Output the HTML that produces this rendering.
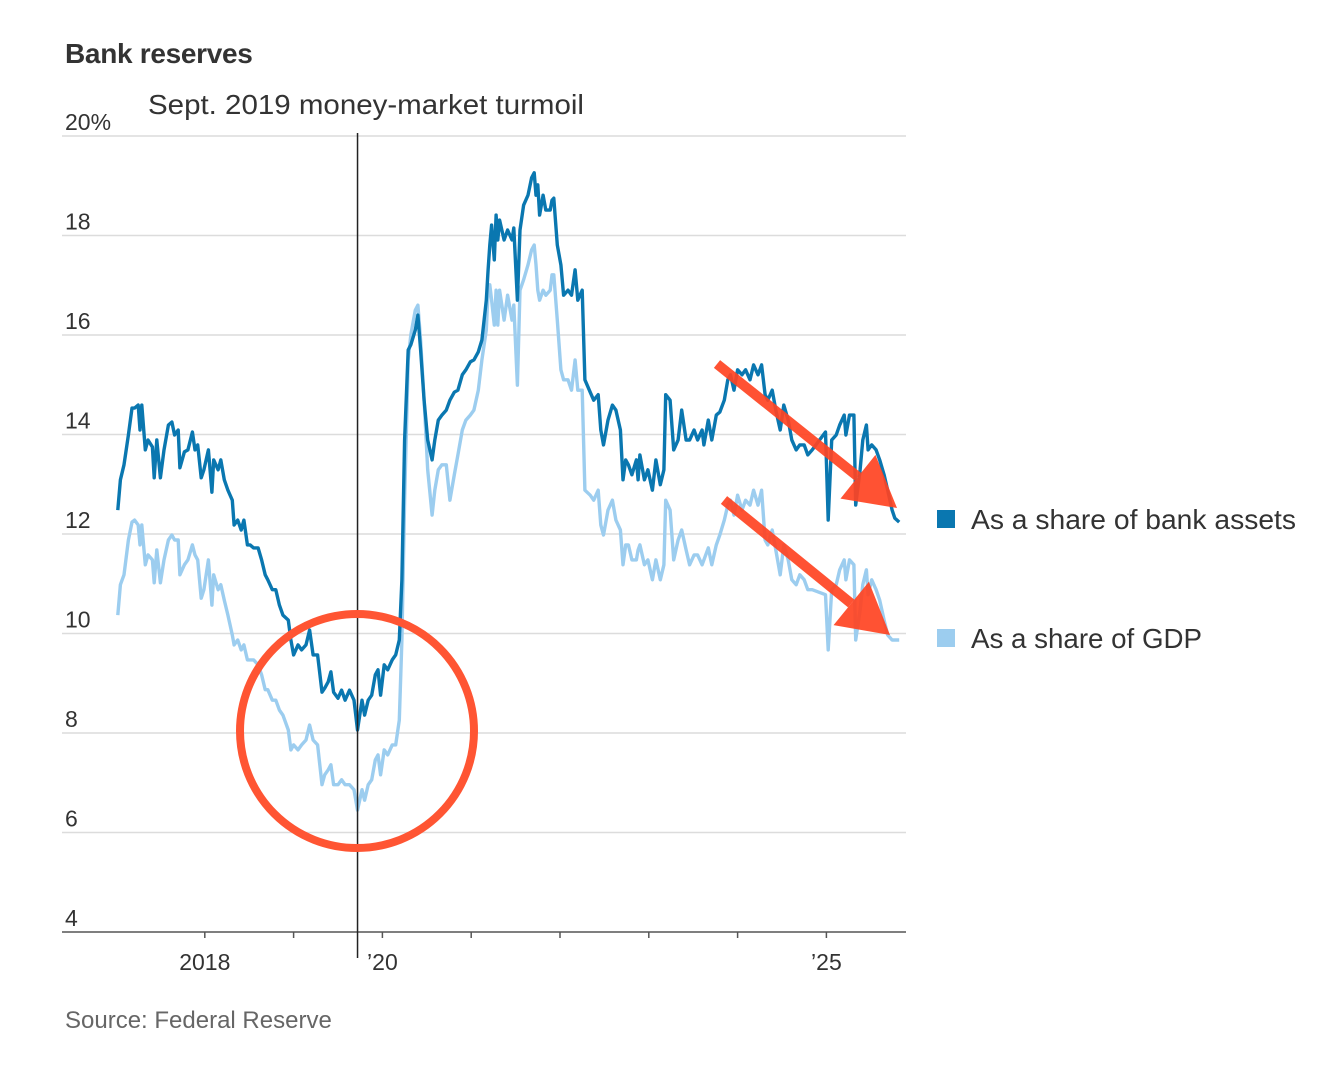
<!DOCTYPE html>
<html><head><meta charset="utf-8"><style>
html,body{margin:0;padding:0;background:#fff;}
svg{display:block;font-family:"Liberation Sans",sans-serif;}
</style></head><body>
<svg id="chart" width="1326" height="1078" viewBox="0 0 1326 1078">
<text x="65" y="63" font-size="28" font-weight="bold" fill="#333" letter-spacing="-0.3">Bank reserves</text>
<text x="148" y="114" font-size="28" fill="#333" textLength="436" lengthAdjust="spacingAndGlyphs">Sept. 2019 money-market turmoil</text>
<g id="grid"></g>
<g id="xaxis"></g>
<g id="series"></g>
<g id="annot"></g>
<g>
<rect x="937" y="510" width="18" height="18" fill="#0a77b0"/>
<text x="971" y="529" font-size="28" fill="#333" textLength="325" lengthAdjust="spacingAndGlyphs">As a share of bank assets</text>
<rect x="937" y="629" width="18" height="18" fill="#9ccdef"/>
<text x="971" y="648" font-size="28" fill="#333" textLength="231" lengthAdjust="spacingAndGlyphs">As a share of GDP</text>
</g>
<text x="65" y="1028" font-size="24" fill="#666">Source: Federal Reserve</text>
</svg>
<script>
const yTicks=[4,6,8,10,12,14,16,18,20];
const yTickLabels=["4","6","8","10","12","14","16","18","20%"];
const xTicks=[2018,2019,2020,2021,2022,2023,2024,2025];
const xTickLabels={2018:"2018",2020:"\u201920",2025:"\u201925"};
const eventDate=2019.72;
const dates=[2017.02,2017.05,2017.09,2017.14,2017.18,2017.21,2017.25,2017.27,2017.29,2017.33,2017.36,2017.41,2017.43,2017.46,2017.50,2017.54,2017.59,2017.63,2017.66,2017.70,2017.72,2017.77,2017.81,2017.86,2017.89,2017.92,2017.96,2017.99,2018.04,2018.08,2018.10,2018.15,2018.18,2018.22,2018.26,2018.31,2018.33,2018.37,2018.41,2018.44,2018.48,2018.51,2018.55,2018.60,2018.64,2018.68,2018.71,2018.76,2018.80,2018.84,2018.88,2018.94,2018.97,2019.00,2019.05,2019.09,2019.14,2019.18,2019.22,2019.27,2019.32,2019.35,2019.39,2019.42,2019.45,2019.50,2019.54,2019.58,2019.63,2019.68,2019.72,2019.77,2019.80,2019.84,2019.88,2019.92,2019.95,2019.98,2020.02,2020.06,2020.11,2020.15,2020.19,2020.22,2020.25,2020.29,2020.32,2020.37,2020.40,2020.43,2020.47,2020.51,2020.56,2020.59,2020.63,2020.67,2020.72,2020.76,2020.81,2020.85,2020.90,2020.94,2020.99,2021.03,2021.08,2021.12,2021.17,2021.19,2021.21,2021.23,2021.26,2021.28,2021.30,2021.32,2021.37,2021.41,2021.46,2021.48,2021.52,2021.55,2021.59,2021.64,2021.68,2021.71,2021.73,2021.75,2021.77,2021.81,2021.84,2021.89,2021.91,2021.93,2021.97,2022.01,2022.04,2022.09,2022.13,2022.17,2022.20,2022.25,2022.28,2022.34,2022.38,2022.43,2022.46,2022.49,2022.54,2022.59,2022.63,2022.68,2022.71,2022.74,2022.77,2022.81,2022.86,2022.88,2022.90,2022.95,2022.99,2023.04,2023.08,2023.13,2023.17,2023.19,2023.24,2023.28,2023.33,2023.37,2023.42,2023.46,2023.51,2023.55,2023.60,2023.62,2023.67,2023.71,2023.76,2023.80,2023.85,2023.89,2023.92,2023.96,2024.00,2024.05,2024.09,2024.14,2024.18,2024.23,2024.27,2024.31,2024.34,2024.39,2024.43,2024.48,2024.52,2024.57,2024.61,2024.66,2024.70,2024.75,2024.79,2024.84,2024.99,2025.02,2025.06,2025.11,2025.15,2025.20,2025.22,2025.26,2025.31,2025.33,2025.38,2025.41,2025.45,2025.47,2025.51,2025.56,2025.60,2025.65,2025.69,2025.74,2025.77,2025.82];
const bankAssets=[12.48,13.09,13.39,13.99,14.53,14.53,14.59,14.09,14.59,13.69,13.89,13.75,13.13,13.89,13.13,13.69,14.19,14.25,13.99,14.09,13.33,13.65,13.69,14.05,13.69,13.79,13.13,13.29,13.69,12.84,13.49,13.29,13.49,13.09,12.88,12.68,12.18,12.28,12.08,12.28,11.78,11.78,11.72,11.72,11.48,11.18,11.08,10.88,10.88,10.57,10.37,10.27,9.87,9.57,9.77,9.67,9.77,10.07,9.57,9.57,8.82,8.90,9.03,9.23,8.82,8.70,8.86,8.66,8.86,8.66,8.06,8.66,8.36,8.66,8.76,9.17,9.27,8.76,9.37,9.27,9.47,9.57,9.87,11.08,13.89,15.70,15.80,16.10,16.40,15.70,14.69,13.89,13.49,13.89,14.29,14.39,14.49,14.69,14.85,14.89,15.20,15.30,15.46,15.50,15.66,15.90,16.70,17.31,17.81,18.21,17.51,18.41,17.91,18.31,17.91,18.11,17.91,18.15,16.70,18.11,18.61,18.81,19.16,19.26,18.81,19.02,18.41,18.81,18.51,18.51,18.71,18.75,17.81,17.41,16.80,16.90,16.80,17.31,16.70,16.90,15.10,14.85,14.69,14.80,14.09,13.79,14.29,14.59,14.49,14.09,13.09,13.49,13.39,13.19,13.49,13.09,13.59,13.09,13.29,12.88,13.49,12.99,13.29,14.80,14.69,13.69,13.89,14.49,13.89,13.89,14.09,13.89,14.09,13.79,14.29,13.89,14.39,14.45,14.69,15.10,15.20,14.89,15.30,15.20,15.30,15.10,15.40,15.20,15.40,14.80,14.69,14.89,14.49,14.09,14.59,14.29,13.89,13.69,13.79,13.79,13.59,13.69,14.05,12.28,13.89,13.99,14.19,14.39,13.99,14.39,14.39,12.58,13.29,13.89,14.19,13.69,13.79,13.69,13.49,13.19,12.88,12.48,12.32,12.24];
const shareGDP=[10.37,10.98,11.18,11.88,12.24,12.28,12.18,11.78,12.18,11.38,11.58,11.48,11.02,11.68,11.02,11.48,11.88,11.98,11.88,11.88,11.18,11.38,11.48,11.78,11.58,11.48,10.71,10.88,11.48,10.57,11.18,10.88,10.98,10.67,10.37,9.97,9.77,9.87,9.67,9.77,9.47,9.47,9.47,9.37,9.17,8.87,8.87,8.66,8.66,8.46,8.36,8.06,7.66,7.76,7.66,7.76,7.86,8.16,7.86,7.76,6.96,7.16,7.26,7.36,6.96,6.96,7.06,6.96,6.96,6.86,6.45,6.86,6.65,6.96,7.06,7.46,7.56,7.16,7.66,7.56,7.76,7.76,8.26,9.87,12.68,15.50,16.00,16.50,16.60,15.90,14.69,13.29,12.38,12.88,13.29,13.39,13.39,12.68,13.19,13.59,14.09,14.29,14.39,14.49,14.89,15.50,16.10,16.90,17.01,16.70,16.20,16.90,16.20,16.90,16.30,16.80,16.30,16.60,14.99,16.90,17.11,17.41,17.71,17.81,17.41,16.90,16.70,16.90,16.80,16.90,17.21,17.21,16.30,15.30,15.10,15.10,14.89,15.50,14.89,14.89,12.88,12.78,12.68,12.88,12.18,11.98,12.48,12.68,12.28,12.08,11.38,11.78,11.78,11.48,11.48,11.68,11.78,11.38,11.48,11.08,11.48,11.08,11.38,12.68,12.48,11.48,11.88,12.08,11.68,11.38,11.58,11.58,11.38,11.48,11.72,11.38,11.78,11.98,12.28,12.58,12.68,12.38,12.78,12.48,12.68,12.58,12.88,12.58,12.88,11.88,11.78,12.08,11.68,11.18,11.78,11.48,11.08,10.98,11.18,11.08,10.88,10.88,10.78,9.67,10.88,10.98,11.28,11.48,11.08,11.48,11.38,9.87,10.47,10.98,11.28,10.78,11.08,10.88,10.67,10.27,9.97,9.87,9.87,9.87];

const NS="http://www.w3.org/2000/svg";
const X0=116, PXY=88.8;
function xs(d){return X0+(d-2017)*PXY;}
function ys(v){return 136+(20-v)*49.75;}
function mk(tag,attrs,parent){const e=document.createElementNS(NS,tag);for(const k in attrs)e.setAttribute(k,attrs[k]);parent.appendChild(e);return e;}
const grid=document.getElementById('grid');
yTicks.forEach((t,i)=>{
  if(t>4){const l=mk('line',{x1:62,x2:906,y1:ys(t),y2:ys(t),stroke:'#dcdcdc','stroke-width':1.5},grid);
  
  }
  const tx=mk('text',{x:65,y:ys(t)-6,'font-size':23,fill:'#333'},grid);
  tx.textContent=yTickLabels[i];
  
  
});
const xa=document.getElementById('xaxis');
const base=mk('line',{x1:62,x2:906,y1:ys(4),y2:ys(4),stroke:'#555','stroke-width':1.5},xa);


xTicks.forEach(t=>{
  const tk=mk('line',{x1:xs(t),x2:xs(t),y1:ys(4),y2:ys(4)+6,stroke:'#555','stroke-width':1.5},xa);
  
  
  if(xTickLabels[t]){const tx=mk('text',{x:xs(t),y:970,'font-size':23,fill:'#333','text-anchor':'middle'},xa);
  tx.textContent=xTickLabels[t];
  
  }
});
const sg=document.getElementById('series');
function line(vals,color,name){
  const n=Math.min(dates.length,vals.length);let d='';
  for(let i=0;i<n;i++)d+=(i?'L':'M')+xs(dates[i]).toFixed(1)+','+ys(vals[i]).toFixed(1);
  const p=mk('path',{d:d,fill:'none',stroke:color,'stroke-width':3.4,'stroke-linejoin':'round'},sg);
  
  
}
line(shareGDP,'#9ccdef','line-share-of-gdp');
line(bankAssets,'#0a77b0','line-share-of-bank-assets');
const an=document.getElementById('annot');
const ev=mk('line',{x1:xs(eventDate),x2:xs(eventDate),y1:133,y2:958,stroke:'#222','stroke-width':1.5},an);


const c=mk('circle',{cx:357,cy:731,r:117,fill:'none',stroke:'#ff5533','stroke-width':8},an);


function arrow(x1,y1,x2,y2,name){
  const g=mk('g',{opacity:0.92},an);
  
  
  const a=Math.atan2(y2-y1,x2-x1),L=50,W=28;
  const bx=x2-L*Math.cos(a),by=y2-L*Math.sin(a);
  mk('line',{x1:x1,y1:y1,x2:bx,y2:by,stroke:'#ff4422','stroke-width':10},g);
  const px=-Math.sin(a)*W,py=Math.cos(a)*W;
  mk('polygon',{points:`${x2},${y2} ${bx+px},${by+py} ${bx-px},${by-py}`,fill:'#ff4422'},g);
}
arrow(717,364,897,508,'arrow-bank-assets-decline');
arrow(724,500,890,635,'arrow-gdp-decline');
</script>
</body></html>
